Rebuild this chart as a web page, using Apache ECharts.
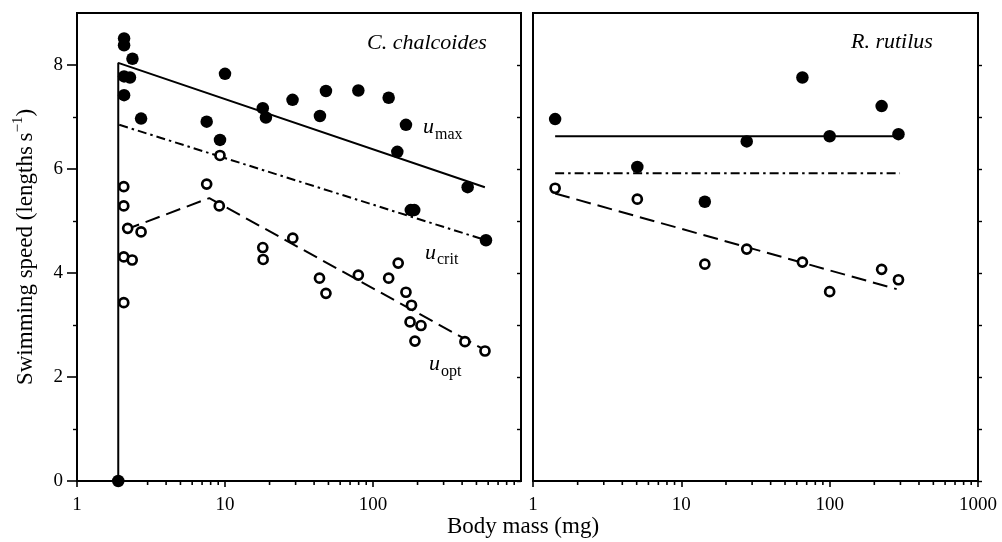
<!DOCTYPE html>
<html><head><meta charset="utf-8">
<script src="https://cdn.jsdelivr.net/npm/echarts@6/dist/echarts.min.js"></script>
<style>html,body{margin:0;padding:0;background:#fff}#c{width:1002px;height:542px}</style>
</head><body><div id="c"></div>
<script>
// ---- C. chalcoides (left panel) ----
const ccFilledMass  = [2.08, 2.08, 2.37, 2.08, 2.28, 2.08, 2.71, 10, 7.52, 9.25, 18, 18.9, 28.6, 48.1, 43.8, 79.6, 127.6, 167, 146, 436, 180, 190, 580, 1.9];
const ccFilledSpeed = [8.51, 8.38, 8.12, 7.78, 7.76, 7.42, 6.97, 7.83, 6.91, 6.56, 7.17, 6.99, 7.33, 7.50, 7.02, 7.51, 7.37, 6.85, 6.33, 5.65, 5.21, 5.21, 4.63, 0];
const ccOpenMass  = [2.07, 2.07, 2.2, 2.71, 2.07, 2.36, 2.07, 7.52, 9.25, 9.15, 18, 18.1, 28.7, 43.5, 48.1, 79.6, 127.6, 148, 167, 182, 178, 211, 192, 418, 571];
const ccOpenSpeed = [5.66, 5.29, 4.86, 4.79, 4.31, 4.25, 3.43, 5.71, 6.26, 5.29, 4.49, 4.26, 4.67, 3.90, 3.61, 3.96, 3.90, 4.19, 3.63, 3.38, 3.06, 2.99, 2.69, 2.68, 2.50];
const ccMaxLineMass  = [1.9, 1.9, 570];
const ccMaxLineSpeed = [0, 8.04, 5.65];
const ccCritLineMass  = [1.93, 580];
const ccCritLineSpeed = [6.85, 4.63];
const ccOptLineMass  = [2.11, 7.83, 570];
const ccOptLineSpeed = [4.83, 5.44, 2.52];

// ---- R. rutilus (right panel) ----
const rrMass        = [1.41, 5.05, 14.4, 27.6, 65.5, 100, 224, 291];
const rrFilledSpeed = [6.96, 6.04, 5.37, 6.53, 7.76, 6.63, 7.21, 6.67];
const rrOpenSpeed   = [5.63, 5.42, 4.17, 4.46, 4.21, 3.64, 4.07, 3.87];
const rrMaxLineMass  = [1.41, 305];
const rrMaxLineSpeed = [6.63, 6.63];
const rrCritLineMass  = [1.41, 298];
const rrCritLineSpeed = [5.92, 5.92];
const rrOptLineMass  = [1.41, 283];
const rrOptLineSpeed = [5.53, 3.69];

// ---- axes ----
const yMajorTicks = [0, 2, 4, 6, 8];
const yMinorTicks = [1, 3, 5, 7];
const yAllTicks = [0, 1, 2, 3, 4, 5, 6, 7, 8];
const xMinorTicks = [2, 3, 4, 5, 6, 7, 8, 9, 20, 30, 40, 50, 60, 70, 80, 90, 200, 300, 400, 500, 600, 700, 800, 900];

const FONT = '"Liberation Serif", "Times New Roman", serif';
const zip = (a, b) => a.map((v, i) => [v, b[i]]);

function xAxisDef(gi, showMax) {
  return {
    gridIndex: gi, type: 'log', logBase: 10, min: 1, max: 1000, splitNumber: 3,
    axisLine: { show: true, lineStyle: { color: '#000', width: 2 } },
    axisTick: { show: true, length: 6, lineStyle: { color: '#000', width: 1.6 } },
    axisLabel: { show: true, showMaxLabel: showMax, margin: 15, color: '#000', fontSize: 19, fontFamily: FONT,
      formatter: v => String(Math.round(v)) },
    splitLine: { show: false }
  };
}
function yAxisBase(gi, pos) {
  return {
    gridIndex: gi, type: 'value', min: 0, max: 9, interval: 1, position: pos,
    axisLine: { show: true, onZero: false, lineStyle: { color: '#000', width: 2 } },
    axisLabel: { show: false },
    axisTick: { show: false },
    splitLine: { show: false }
  };
}

const yAxes = [];
// 0: left panel, left side, major ticks + labels
const y0 = yAxisBase(0, 'left');
y0.axisTick = { show: true, length: 10, customValues: yMajorTicks, lineStyle: { color: '#000', width: 1.6 } };
y0.axisLabel = { show: true, customValues: yMajorTicks, margin: 14, color: '#000', fontSize: 19, fontFamily: FONT };
y0.name = '{a|Swimming speed (lengths\u2009s}{s|\u22121}{a|)}';
y0.nameLocation = 'middle';
y0.nameGap = 40;
y0.nameTextStyle = { color: '#000', fontFamily: FONT, fontSize: 23,
  rich: { a: { fontFamily: FONT, fontSize: 23, color: '#000', lineHeight: 26, verticalAlign: 'bottom' },
          s: { fontFamily: FONT, fontSize: 15, color: '#000', lineHeight: 26, verticalAlign: 'top' } } };
yAxes.push(y0);
// 1: left panel, left side, minor ticks
const y1 = yAxisBase(0, 'left');
y1.axisLine = { show: false };
y1.axisTick = { show: true, length: 4, customValues: yMinorTicks, lineStyle: { color: '#000', width: 1.4 } };
yAxes.push(y1);
// 2: left panel, right side, inward ticks
const y2 = yAxisBase(0, 'right');
y2.axisTick = { show: true, inside: true, length: 4, customValues: yAllTicks, lineStyle: { color: '#000', width: 1.4 } };
yAxes.push(y2);
// 3: right panel, left side
const y3 = yAxisBase(1, 'left');
yAxes.push(y3);
// 4: right panel, right side, outward ticks
const y4 = yAxisBase(1, 'right');
y4.axisTick = { show: true, length: 4, customValues: yAllTicks, lineStyle: { color: '#000', width: 1.4 } };
yAxes.push(y4);

function lineSeries(xi, yi, mass, speed, dash) {
  return { type: 'line', xAxisIndex: xi, yAxisIndex: yi, data: zip(mass, speed), symbol: 'none',
    lineStyle: { color: '#000', width: 2, type: dash }, silent: true, z: 3, animation: false };
}
function filledSeries(xi, yi, mass, speed) {
  return { type: 'scatter', xAxisIndex: xi, yAxisIndex: yi, data: zip(mass, speed), symbol: 'circle', symbolSize: 12.5,
    itemStyle: { color: '#000', opacity: 1 }, clip: false, z: 5, animation: false };
}
function openSeries(xi, yi, mass, speed) {
  return { type: 'scatter', xAxisIndex: xi, yAxisIndex: yi, data: zip(mass, speed), symbol: 'circle', symbolSize: 9,
    itemStyle: { color: '#fff', borderColor: '#000', borderWidth: 2.7, opacity: 1 }, clip: false, z: 6, animation: false };
}
function minorXTicks(xi, yi) {
  return { type: 'custom', xAxisIndex: xi, yAxisIndex: yi, clip: false, silent: true, animation: false, z: 2,
    data: xMinorTicks.map(v => [v, 0]),
    renderItem: (params, api) => {
      const p = api.coord([api.value(0), 0]);
      return { type: 'line', shape: { x1: p[0], y1: p[1], x2: p[0], y2: p[1] + 4 },
        style: { stroke: '#000', lineWidth: 1.6 } };
    } };
}

const option = {
  animation: false,
  backgroundColor: '#fff',
  grid: [
    { left: 77, right: 1002 - 521, top: 13, bottom: 542 - 481, show: true, borderColor: '#000', borderWidth: 2, backgroundColor: 'transparent' },
    { left: 533, right: 1002 - 978, top: 13, bottom: 542 - 481, show: true, borderColor: '#000', borderWidth: 2, backgroundColor: 'transparent' }
  ],
  xAxis: [xAxisDef(0, false), xAxisDef(1, true)],
  yAxis: yAxes,
  series: [
    minorXTicks(0, 0), minorXTicks(1, 3),
    lineSeries(0, 0, ccMaxLineMass, ccMaxLineSpeed, 'solid'),
    lineSeries(0, 0, ccCritLineMass, ccCritLineSpeed, [9, 4, 2.5, 4]),
    lineSeries(0, 0, ccOptLineMass, ccOptLineSpeed, [15, 7]),
    filledSeries(0, 0, ccFilledMass, ccFilledSpeed),
    openSeries(0, 0, ccOpenMass, ccOpenSpeed),
    lineSeries(1, 3, rrMaxLineMass, rrMaxLineSpeed, 'solid'),
    lineSeries(1, 3, rrCritLineMass, rrCritLineSpeed, [9, 4, 2.5, 4]),
    lineSeries(1, 3, rrOptLineMass, rrOptLineSpeed, [15, 7]),
    filledSeries(1, 3, rrMass, rrFilledSpeed),
    openSeries(1, 3, rrMass, rrOpenSpeed)
  ],
  graphic: [
    { type: 'text', left: 367, top: 32, style: { text: 'C. chalcoides', font: 'italic 22px ' + FONT, fill: '#000' } },
    { type: 'text', left: 851, top: 31, style: { text: 'R. rutilus', font: 'italic 22px ' + FONT, fill: '#000' } },
    { type: 'text', left: 447, top: 515, style: { text: 'Body mass (mg)', font: '23px ' + FONT, fill: '#000' } },
    { type: 'text', left: 423, top: 116, style: { text: 'u', font: 'italic 22px ' + FONT, fill: '#000' } },
    { type: 'text', left: 435, top: 127, style: { text: 'max', font: '16px ' + FONT, fill: '#000' } },
    { type: 'text', left: 425, top: 242, style: { text: 'u', font: 'italic 22px ' + FONT, fill: '#000' } },
    { type: 'text', left: 437, top: 252, style: { text: 'crit', font: '16px ' + FONT, fill: '#000' } },
    { type: 'text', left: 429, top: 353, style: { text: 'u', font: 'italic 22px ' + FONT, fill: '#000' } },
    { type: 'text', left: 441, top: 364, style: { text: 'opt', font: '16px ' + FONT, fill: '#000' } }
  ]
};
const chart = echarts.init(document.getElementById('c'), null, { renderer: 'canvas' });
chart.setOption(option);
</script>
</body></html>
